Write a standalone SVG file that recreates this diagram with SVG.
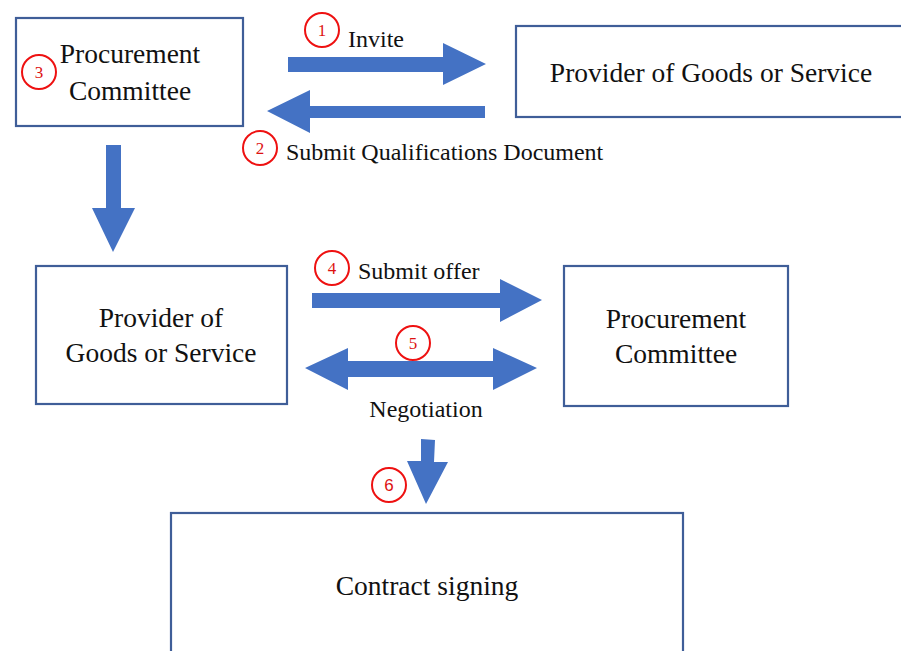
<svg xmlns="http://www.w3.org/2000/svg" width="901" height="651" viewBox="0 0 901 651">
<style>
.box{fill:#fff;stroke:#3f5e98;stroke-width:2.2}
.t{font-family:"Liberation Serif","Times New Roman",serif;font-size:27.5px;fill:#111;text-anchor:middle}
.l{font-family:"Liberation Serif","Times New Roman",serif;font-size:24px;fill:#111}
.arr{fill:#4472c4}
.num circle{fill:none;stroke:#ee1111;stroke-width:2}
.num text{font-family:"Liberation Serif","Times New Roman",serif;font-size:17px;fill:#dd1111;text-anchor:middle}
</style>
<rect width="901" height="651" fill="#fff"/>
<g id="pc1">
<rect class="box" x="16" y="18" width="227" height="108"/>
<text class="t" x="130" y="63">Procurement</text>
<text class="t" x="130" y="100">Committee</text>
</g>
<g id="pgs1">
<rect class="box" x="516" y="26" width="392" height="91"/>
<text class="t" x="711" y="82">Provider of Goods or Service</text>
</g>
<g id="pgs2">
<rect class="box" x="36" y="266" width="251" height="138"/>
<text class="t" x="161" y="327">Provider of</text>
<text class="t" x="161" y="362">Goods or Service</text>
</g>
<g id="pc2">
<rect class="box" x="564" y="266" width="224" height="140"/>
<text class="t" x="676" y="328">Procurement</text>
<text class="t" x="676" y="363">Committee</text>
</g>
<g id="contract">
<rect class="box" x="171" y="513" width="512" height="150"/>
<text class="t" x="427" y="595">Contract signing</text>
</g>
<g id="connectors">
<polygon class="arr" points="288,57 443,57 443,43 486,64 443,85 443,72 288,72"/>
<polygon class="arr" points="485,106 310,106 310,90 267,111 310,133 310,118 485,118"/>
<polygon class="arr" points="106,145 121,145 121,208 135,208 113,252 92,208 106,208"/>
<polygon class="arr" points="312,293 500,293 500,279 542,300 500,322 500,308 312,308"/>
<polygon class="arr" points="305,368 348,348 348,361 493,361 493,348 537,368 493,390 493,377 348,377 348,390"/>
<polygon class="arr" points="421,439 435,440 434,462 448,462 426,504 407,461 421,461"/>
<text class="l" x="348" y="47">Invite</text>
<text class="l" x="286" y="160">Submit Qualifications Document</text>
<text class="l" x="358" y="279">Submit offer</text>
<text class="l" x="426" y="417" text-anchor="middle">Negotiation</text>
</g>
<g id="n1" class="num"><circle cx="322" cy="30" r="17"/><text x="322" y="36">1</text></g>
<g id="n2" class="num"><circle cx="260" cy="148" r="17"/><text x="260" y="154">2</text></g>
<g id="n3" class="num"><circle cx="39" cy="72" r="17"/><text x="39" y="78">3</text></g>
<g id="n4" class="num"><circle cx="332" cy="268" r="17"/><text x="332" y="274">4</text></g>
<g id="n5" class="num"><circle cx="413" cy="343" r="17"/><text x="413" y="349">5</text></g>
<g id="n6" class="num"><circle cx="389" cy="485" r="17"/><text x="389" y="491" style="font-family:'Liberation Sans',Arial,sans-serif">6</text></g>
</svg>
